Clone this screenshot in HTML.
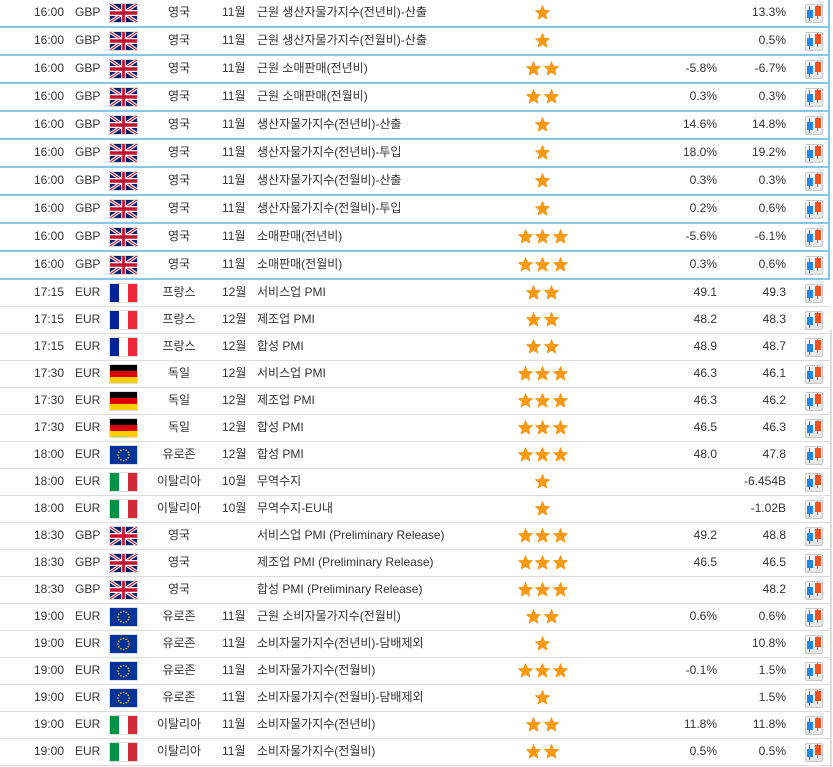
<!DOCTYPE html>
<html><head><meta charset="utf-8">
<style>
body{margin:0;width:833px;height:767px;overflow:hidden;background:#fff;font-family:"Liberation Sans","Noto Sans CJK KR",sans-serif;font-size:12px;color:#333;position:relative}
.r{position:relative;width:830px;height:26px;line-height:24px}
.b{width:828px;border-bottom:2px solid #87c7e6;border-right:2px solid #87c7e6}
.g{border-bottom:1px solid #dcdcdc}
.r>*{position:absolute;top:0;white-space:nowrap}
.t{left:0;width:64px;text-align:right}
.c{left:75px}
.f{left:109px;top:3px;width:27px;height:18px;border:1px solid #ddd;display:block}
.n{left:149px;width:60px;text-align:center}
.m{left:222px}
.e{left:257px}
.s{left:500px;width:85px;top:5px;height:15px;display:flex;justify-content:center;gap:2.5px}
.s svg{width:15px;height:15px;display:block}
.a{left:640px;width:77px;text-align:right}
.p{left:700px;width:86px;text-align:right}
.i{left:805px;top:4px;width:18px;height:19px;box-sizing:border-box;border:1px solid #c9c9c9;border-radius:2px;background:linear-gradient(#fafafa,#e6e6e6)}
.i:before{content:"";position:absolute;left:3px;top:1px;width:1px;height:15px;background:#1e7fe0}
.i:after{content:"";position:absolute;left:11px;top:0;width:1px;height:14px;background:#f4511e}
.i b{position:absolute;left:1px;top:5px;width:6px;height:8px;background:#1e88e5}
.i i{position:absolute;left:9px;top:1px;width:6px;height:10px;background:#f4511e}
.vl{position:absolute;left:830px;top:330px;width:2px;height:437px;background:#ddd}
</style></head><body>
<svg width="0" height="0" style="position:absolute"><defs>
<symbol id="uk" viewBox="0 0 60 30" preserveAspectRatio="none"><rect width="60" height="30" fill="#012169"/><path d="M0,0 L60,30 M60,0 L0,30" stroke="#fff" stroke-width="6"/><path d="M0,0 L60,30 M60,0 L0,30" stroke="#C8102E" stroke-width="2"/><path d="M30,0 V30 M0,15 H60" stroke="#fff" stroke-width="10"/><path d="M30,0 V30 M0,15 H60" stroke="#C8102E" stroke-width="6"/></symbol>
<symbol id="fr" viewBox="0 0 27 18" preserveAspectRatio="none"><rect width="9" height="18" fill="#002395"/><rect x="9" width="9" height="18" fill="#fff"/><rect x="18" width="9" height="18" fill="#ED2939"/></symbol>
<symbol id="de" viewBox="0 0 27 18" preserveAspectRatio="none"><rect width="27" height="6" fill="#000"/><rect y="6" width="27" height="6" fill="#DD0000"/><rect y="12" width="27" height="6" fill="#FFCE00"/></symbol>
<symbol id="it" viewBox="0 0 27 18" preserveAspectRatio="none"><rect width="9" height="18" fill="#009246"/><rect x="9" width="9" height="18" fill="#fff"/><rect x="18" width="9" height="18" fill="#CE2B37"/></symbol>
<symbol id="eu" viewBox="0 0 27 18" preserveAspectRatio="none"><rect width="27" height="18" fill="#003399"/><g fill="#FFCC00"><circle cx="13.5" cy="3.5" r=".8"/><circle cx="16.25" cy="4.24" r=".8"/><circle cx="18.26" cy="6.25" r=".8"/><circle cx="19" cy="9" r=".8"/><circle cx="18.26" cy="11.75" r=".8"/><circle cx="16.25" cy="13.76" r=".8"/><circle cx="13.5" cy="14.5" r=".8"/><circle cx="10.75" cy="13.76" r=".8"/><circle cx="8.74" cy="11.75" r=".8"/><circle cx="8" cy="9" r=".8"/><circle cx="8.74" cy="6.25" r=".8"/><circle cx="10.75" cy="4.24" r=".8"/></g></symbol>
<symbol id="st" viewBox="0 0 15 15"><polygon points="7.5,0.5 9.5,5.3 14.6,5.7 10.7,9 11.9,14.1 7.5,11.4 3.1,14.1 4.3,9 0.4,5.7 5.5,5.3" fill="#fd9a13" stroke="#f28c00" stroke-width="0.6" stroke-linejoin="round"/></symbol>
</defs></svg>

<div class="r b"><span class="t">16:00</span><span class="c">GBP</span><svg class="f"><use href="#uk" width="27" height="18"/></svg><span class="n">영국</span><span class="m">11월</span><span class="e">근원 생산자물가지수(전년비)-산출</span><span class="s"><svg><use href="#st"/></svg></span><span class="a"></span><span class="p">13.3%</span><span class="i"><b></b><i></i></span></div>
<div class="r b"><span class="t">16:00</span><span class="c">GBP</span><svg class="f"><use href="#uk" width="27" height="18"/></svg><span class="n">영국</span><span class="m">11월</span><span class="e">근원 생산자물가지수(전월비)-산출</span><span class="s"><svg><use href="#st"/></svg></span><span class="a"></span><span class="p">0.5%</span><span class="i"><b></b><i></i></span></div>
<div class="r b"><span class="t">16:00</span><span class="c">GBP</span><svg class="f"><use href="#uk" width="27" height="18"/></svg><span class="n">영국</span><span class="m">11월</span><span class="e">근원 소매판매(전년비)</span><span class="s"><svg><use href="#st"/></svg><svg><use href="#st"/></svg></span><span class="a">-5.8%</span><span class="p">-6.7%</span><span class="i"><b></b><i></i></span></div>
<div class="r b"><span class="t">16:00</span><span class="c">GBP</span><svg class="f"><use href="#uk" width="27" height="18"/></svg><span class="n">영국</span><span class="m">11월</span><span class="e">근원 소매판매(전월비)</span><span class="s"><svg><use href="#st"/></svg><svg><use href="#st"/></svg></span><span class="a">0.3%</span><span class="p">0.3%</span><span class="i"><b></b><i></i></span></div>
<div class="r b"><span class="t">16:00</span><span class="c">GBP</span><svg class="f"><use href="#uk" width="27" height="18"/></svg><span class="n">영국</span><span class="m">11월</span><span class="e">생산자물가지수(전년비)-산출</span><span class="s"><svg><use href="#st"/></svg></span><span class="a">14.6%</span><span class="p">14.8%</span><span class="i"><b></b><i></i></span></div>
<div class="r b"><span class="t">16:00</span><span class="c">GBP</span><svg class="f"><use href="#uk" width="27" height="18"/></svg><span class="n">영국</span><span class="m">11월</span><span class="e">생산자물가지수(전년비)-투입</span><span class="s"><svg><use href="#st"/></svg></span><span class="a">18.0%</span><span class="p">19.2%</span><span class="i"><b></b><i></i></span></div>
<div class="r b"><span class="t">16:00</span><span class="c">GBP</span><svg class="f"><use href="#uk" width="27" height="18"/></svg><span class="n">영국</span><span class="m">11월</span><span class="e">생산자물가지수(전월비)-산출</span><span class="s"><svg><use href="#st"/></svg></span><span class="a">0.3%</span><span class="p">0.3%</span><span class="i"><b></b><i></i></span></div>
<div class="r b"><span class="t">16:00</span><span class="c">GBP</span><svg class="f"><use href="#uk" width="27" height="18"/></svg><span class="n">영국</span><span class="m">11월</span><span class="e">생산자물가지수(전월비)-투입</span><span class="s"><svg><use href="#st"/></svg></span><span class="a">0.2%</span><span class="p">0.6%</span><span class="i"><b></b><i></i></span></div>
<div class="r b"><span class="t">16:00</span><span class="c">GBP</span><svg class="f"><use href="#uk" width="27" height="18"/></svg><span class="n">영국</span><span class="m">11월</span><span class="e">소매판매(전년비)</span><span class="s"><svg><use href="#st"/></svg><svg><use href="#st"/></svg><svg><use href="#st"/></svg></span><span class="a">-5.6%</span><span class="p">-6.1%</span><span class="i"><b></b><i></i></span></div>
<div class="r b"><span class="t">16:00</span><span class="c">GBP</span><svg class="f"><use href="#uk" width="27" height="18"/></svg><span class="n">영국</span><span class="m">11월</span><span class="e">소매판매(전월비)</span><span class="s"><svg><use href="#st"/></svg><svg><use href="#st"/></svg><svg><use href="#st"/></svg></span><span class="a">0.3%</span><span class="p">0.6%</span><span class="i"><b></b><i></i></span></div>

<div class="r g"><span class="t">17:15</span><span class="c">EUR</span><svg class="f"><use href="#fr" width="27" height="18"/></svg><span class="n">프랑스</span><span class="m">12월</span><span class="e">서비스업 PMI</span><span class="s"><svg><use href="#st"/></svg><svg><use href="#st"/></svg></span><span class="a">49.1</span><span class="p">49.3</span><span class="i"><b></b><i></i></span></div>
<div class="r g"><span class="t">17:15</span><span class="c">EUR</span><svg class="f"><use href="#fr" width="27" height="18"/></svg><span class="n">프랑스</span><span class="m">12월</span><span class="e">제조업 PMI</span><span class="s"><svg><use href="#st"/></svg><svg><use href="#st"/></svg></span><span class="a">48.2</span><span class="p">48.3</span><span class="i"><b></b><i></i></span></div>
<div class="r g"><span class="t">17:15</span><span class="c">EUR</span><svg class="f"><use href="#fr" width="27" height="18"/></svg><span class="n">프랑스</span><span class="m">12월</span><span class="e">합성 PMI</span><span class="s"><svg><use href="#st"/></svg><svg><use href="#st"/></svg></span><span class="a">48.9</span><span class="p">48.7</span><span class="i"><b></b><i></i></span></div>
<div class="r g"><span class="t">17:30</span><span class="c">EUR</span><svg class="f"><use href="#de" width="27" height="18"/></svg><span class="n">독일</span><span class="m">12월</span><span class="e">서비스업 PMI</span><span class="s"><svg><use href="#st"/></svg><svg><use href="#st"/></svg><svg><use href="#st"/></svg></span><span class="a">46.3</span><span class="p">46.1</span><span class="i"><b></b><i></i></span></div>
<div class="r g"><span class="t">17:30</span><span class="c">EUR</span><svg class="f"><use href="#de" width="27" height="18"/></svg><span class="n">독일</span><span class="m">12월</span><span class="e">제조업 PMI</span><span class="s"><svg><use href="#st"/></svg><svg><use href="#st"/></svg><svg><use href="#st"/></svg></span><span class="a">46.3</span><span class="p">46.2</span><span class="i"><b></b><i></i></span></div>
<div class="r g"><span class="t">17:30</span><span class="c">EUR</span><svg class="f"><use href="#de" width="27" height="18"/></svg><span class="n">독일</span><span class="m">12월</span><span class="e">합성 PMI</span><span class="s"><svg><use href="#st"/></svg><svg><use href="#st"/></svg><svg><use href="#st"/></svg></span><span class="a">46.5</span><span class="p">46.3</span><span class="i"><b></b><i></i></span></div>
<div class="r g"><span class="t">18:00</span><span class="c">EUR</span><svg class="f"><use href="#eu" width="27" height="18"/></svg><span class="n">유로존</span><span class="m">12월</span><span class="e">합성 PMI</span><span class="s"><svg><use href="#st"/></svg><svg><use href="#st"/></svg><svg><use href="#st"/></svg></span><span class="a">48.0</span><span class="p">47.8</span><span class="i"><b></b><i></i></span></div>
<div class="r g"><span class="t">18:00</span><span class="c">EUR</span><svg class="f"><use href="#it" width="27" height="18"/></svg><span class="n">이탈리아</span><span class="m">10월</span><span class="e">무역수지</span><span class="s"><svg><use href="#st"/></svg></span><span class="a"></span><span class="p">-6.454B</span><span class="i"><b></b><i></i></span></div>
<div class="r g"><span class="t">18:00</span><span class="c">EUR</span><svg class="f"><use href="#it" width="27" height="18"/></svg><span class="n">이탈리아</span><span class="m">10월</span><span class="e">무역수지-EU내</span><span class="s"><svg><use href="#st"/></svg></span><span class="a"></span><span class="p">-1.02B</span><span class="i"><b></b><i></i></span></div>
<div class="r g"><span class="t">18:30</span><span class="c">GBP</span><svg class="f"><use href="#uk" width="27" height="18"/></svg><span class="n">영국</span><span class="m"></span><span class="e">서비스업 PMI (Preliminary Release)</span><span class="s"><svg><use href="#st"/></svg><svg><use href="#st"/></svg><svg><use href="#st"/></svg></span><span class="a">49.2</span><span class="p">48.8</span><span class="i"><b></b><i></i></span></div>
<div class="r g"><span class="t">18:30</span><span class="c">GBP</span><svg class="f"><use href="#uk" width="27" height="18"/></svg><span class="n">영국</span><span class="m"></span><span class="e">제조업 PMI (Preliminary Release)</span><span class="s"><svg><use href="#st"/></svg><svg><use href="#st"/></svg><svg><use href="#st"/></svg></span><span class="a">46.5</span><span class="p">46.5</span><span class="i"><b></b><i></i></span></div>
<div class="r g"><span class="t">18:30</span><span class="c">GBP</span><svg class="f"><use href="#uk" width="27" height="18"/></svg><span class="n">영국</span><span class="m"></span><span class="e">합성 PMI (Preliminary Release)</span><span class="s"><svg><use href="#st"/></svg><svg><use href="#st"/></svg><svg><use href="#st"/></svg></span><span class="a"></span><span class="p">48.2</span><span class="i"><b></b><i></i></span></div>
<div class="r g"><span class="t">19:00</span><span class="c">EUR</span><svg class="f"><use href="#eu" width="27" height="18"/></svg><span class="n">유로존</span><span class="m">11월</span><span class="e">근원 소비자물가지수(전월비)</span><span class="s"><svg><use href="#st"/></svg><svg><use href="#st"/></svg></span><span class="a">0.6%</span><span class="p">0.6%</span><span class="i"><b></b><i></i></span></div>
<div class="r g"><span class="t">19:00</span><span class="c">EUR</span><svg class="f"><use href="#eu" width="27" height="18"/></svg><span class="n">유로존</span><span class="m">11월</span><span class="e">소비자물가지수(전년비)-담배제외</span><span class="s"><svg><use href="#st"/></svg></span><span class="a"></span><span class="p">10.8%</span><span class="i"><b></b><i></i></span></div>
<div class="r g"><span class="t">19:00</span><span class="c">EUR</span><svg class="f"><use href="#eu" width="27" height="18"/></svg><span class="n">유로존</span><span class="m">11월</span><span class="e">소비자물가지수(전월비)</span><span class="s"><svg><use href="#st"/></svg><svg><use href="#st"/></svg><svg><use href="#st"/></svg></span><span class="a">-0.1%</span><span class="p">1.5%</span><span class="i"><b></b><i></i></span></div>
<div class="r g"><span class="t">19:00</span><span class="c">EUR</span><svg class="f"><use href="#eu" width="27" height="18"/></svg><span class="n">유로존</span><span class="m">11월</span><span class="e">소비자물가지수(전월비)-담배제외</span><span class="s"><svg><use href="#st"/></svg></span><span class="a"></span><span class="p">1.5%</span><span class="i"><b></b><i></i></span></div>
<div class="r g"><span class="t">19:00</span><span class="c">EUR</span><svg class="f"><use href="#it" width="27" height="18"/></svg><span class="n">이탈리아</span><span class="m">11월</span><span class="e">소비자물가지수(전년비)</span><span class="s"><svg><use href="#st"/></svg><svg><use href="#st"/></svg></span><span class="a">11.8%</span><span class="p">11.8%</span><span class="i"><b></b><i></i></span></div>
<div class="r g"><span class="t">19:00</span><span class="c">EUR</span><svg class="f"><use href="#it" width="27" height="18"/></svg><span class="n">이탈리아</span><span class="m">11월</span><span class="e">소비자물가지수(전월비)</span><span class="s"><svg><use href="#st"/></svg><svg><use href="#st"/></svg></span><span class="a">0.5%</span><span class="p">0.5%</span><span class="i"><b></b><i></i></span></div>
<div class="vl"></div>
</body></html>
